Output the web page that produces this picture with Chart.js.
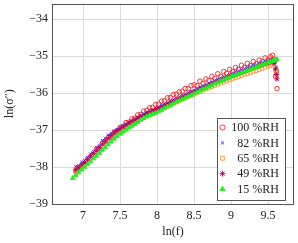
<!DOCTYPE html>
<html>
<head>
<meta charset="utf-8">
<script src="https://cdn.jsdelivr.net/npm/chart.js"></script>
<style>
  body { margin: 0; background: #fff; }
  #wrap { width: 298px; height: 243px; }
</style>
</head>
<body>
<div id="wrap"><canvas id="chart"></canvas></div>
<script>
// ln(f) sweep shared by all humidity levels
const lnF = [
  6.86, 6.90, 6.94, 6.98, 7.02, 7.06, 7.10, 7.14, 7.18, 7.22, 7.26, 7.30,
  7.34, 7.38, 7.42, 7.46, 7.50, 7.54, 7.58, 7.62, 7.66, 7.70, 7.74, 7.78,
  7.82, 7.86, 7.90, 7.94, 7.98, 8.02, 8.06, 8.10, 8.14, 8.18, 8.22, 8.26,
  8.30, 8.34, 8.38, 8.42, 8.46, 8.50, 8.54, 8.58, 8.62, 8.66, 8.70, 8.74,
  8.78, 8.82, 8.86, 8.90, 8.94, 8.98, 9.02, 9.06, 9.10, 9.14, 9.18, 9.22,
  9.26, 9.30, 9.34, 9.38, 9.42, 9.46, 9.50, 9.53, 9.56, 9.58, 9.60, 9.61, 9.62
];

// ln(sigma'') per humidity level
const rh100 = [
  null, -38.10, -38.02, -37.96, -37.93, -37.78, -37.74, -37.66, -37.52, -37.49, -37.36, -37.31,
  -37.20, -37.17, -37.06, -37.02, -36.93, -36.90, -36.80, -36.79, -36.70, -36.68, -36.59, -36.58,
  -36.49, -36.47, -36.40, -36.39, -36.31, -36.30, -36.22, -36.21, -36.13, -36.12, -36.04, -36.03,
  -35.97, -35.95, -35.88, -35.88, -35.80, -35.78, -35.80, -35.68, -35.74, -35.62, -35.66, -35.55,
  -35.60, -35.48, -35.55, -35.42, -35.47, -35.36, -35.42, -35.31, -35.36, -35.25, -35.31, -35.20,
  -35.26, -35.15, -35.21, -35.11, -35.15, -35.05, -35.10, -35.02, -34.98, -35.15, -35.55, -35.40, -35.88
];
const rh82 = [
  null, -37.98, -37.96, -37.86, -37.82, -37.74, -37.64, -37.58, -37.47, -37.42, -37.28, -37.22,
  -37.13, -37.09, -37.02, -36.98, -36.93, -36.88, -36.83, -36.79, -36.74, -36.69, -36.65, -36.61,
  -36.56, -36.52, -36.48, -36.45, -36.41, -36.38, -36.34, -36.30, -36.26, -36.22, -36.18, -36.14,
  -36.10, -36.06, -36.03, -35.99, -35.95, -35.92, -35.88, -35.84, -35.80, -35.77, -35.73, -35.70,
  -35.66, -35.63, -35.59, -35.56, -35.53, -35.50, -35.46, -35.43, -35.40, -35.37, -35.34, -35.31,
  -35.28, -35.25, -35.23, -35.20, -35.17, -35.14, -35.12, -35.10, -35.08, -35.07, -35.15, -35.30, -35.45
];
const rh65 = [
  null, -38.15, -38.08, -38.01, -37.95, -37.86, -37.78, -37.70, -37.62, -37.54, -37.46, -37.38,
  -37.30, -37.23, -37.16, -37.10, -37.04, -36.99, -36.94, -36.89, -36.84, -36.79, -36.75, -36.70,
  -36.66, -36.62, -36.58, -36.55, -36.51, -36.48, -36.44, -36.40, -36.36, -36.32, -36.28, -36.25,
  -36.21, -36.17, -36.14, -36.10, -36.07, -36.04, -36.00, -35.97, -35.93, -35.90, -35.87, -35.83,
  -35.80, -35.77, -35.74, -35.71, -35.68, -35.65, -35.62, -35.59, -35.56, -35.53, -35.50, -35.48,
  -35.45, -35.42, -35.40, -35.37, -35.34, -35.31, -35.28, -35.26, -35.22, -35.20, -35.30, -35.42, -35.50
];
const rh49 = [
  null, -38.08, -38.02, -37.94, -37.88, -37.80, -37.71, -37.63, -37.55, -37.47, -37.38, -37.30,
  -37.22, -37.15, -37.08, -37.02, -36.97, -36.92, -36.87, -36.82, -36.77, -36.73, -36.68, -36.64,
  -36.60, -36.56, -36.52, -36.49, -36.45, -36.42, -36.38, -36.34, -36.30, -36.26, -36.22, -36.19,
  -36.15, -36.11, -36.08, -36.04, -36.00, -35.97, -35.93, -35.90, -35.86, -35.83, -35.79, -35.76,
  -35.72, -35.69, -35.66, -35.62, -35.59, -35.56, -35.53, -35.50, -35.47, -35.44, -35.41, -35.38,
  -35.35, -35.32, -35.29, -35.27, -35.24, -35.21, -35.19, -35.16, -35.13, -35.20, -35.35, -35.50, -35.62
];
const rh15 = [
  -38.30, -38.22, -38.15, -38.07, -38.00, -37.93, -37.85, -37.77, -37.70, -37.62, -37.54, -37.47,
  -37.39, -37.31, -37.24, -37.17, -37.10, -37.05, -36.99, -36.94, -36.89, -36.84, -36.79, -36.73,
  -36.68, -36.64, -36.60, -36.57, -36.54, -36.50, -36.46, -36.41, -36.37, -36.33, -36.28, -36.24,
  -36.20, -36.17, -36.13, -36.09, -36.06, -36.02, -35.98, -35.94, -35.90, -35.87, -35.83, -35.79,
  -35.75, -35.72, -35.68, -35.65, -35.61, -35.58, -35.54, -35.51, -35.48, -35.45, -35.42, -35.39,
  -35.36, -35.33, -35.30, -35.27, -35.24, -35.21, -35.18, -35.16, -35.14, -35.12, -35.11, -35.10, -35.09
];

const seriesLabels = ["100 %RH", "82 %RH", "65 %RH", "49 %RH", "15 %RH"];
const xTicks = [7, 7.5, 8, 8.5, 9, 9.5];
const yTicks = [-39, -38, -37, -36, -35, -34];

const FONT = "'Liberation Serif', 'DejaVu Serif', serif";
const TXT = "#222";
const FRAME = "#555";

const toPoints = (ys) =>
  lnF.map((x, i) => ({ x: x, y: ys[i] })).filter((p) => p.y !== null);

const minus = (v) => (v < 0 ? "\u2212" + Math.abs(v) : String(v));

const makeSet = (label, ys, style, color, fill, radius, order) => ({
  label: label,
  data: toPoints(ys),
  pointStyle: style,
  borderColor: color,
  backgroundColor: fill,
  pointRadius: radius,
  pointBorderWidth: 0.9,
  pointHoverRadius: radius,
  showLine: false,
  order: order, // later humidity levels drawn on top
});

const datasets = [
  makeSet(seriesLabels[0], rh100, "circle", "#ff2020", "rgba(0,0,0,0)", 2.3, 5),
  makeSet(seriesLabels[1], rh82, "crossRot", "#2a2aff", "#2a2aff", 2, 4),
  makeSet(seriesLabels[2], rh65, "rect", "#ff9933", "rgba(0,0,0,0)", 2.4, 3),
  makeSet(seriesLabels[3], rh49, "star", "#b3005a", "#b3005a", 2.6, 2),
  makeSet(seriesLabels[4], rh15, "triangle", "#22ee22", "#22ee22", 2.6, 1),
];

// box round the plot area and the boxed legend at lower right
const framePlugin = {
  id: "frame",
  afterDraw: (chart) => {
    const { ctx, chartArea: a } = chart;
    ctx.save();
    ctx.strokeStyle = FRAME;
    ctx.lineWidth = 1;
    ctx.strokeRect(Math.round(a.left) + 0.5, Math.round(a.top) + 0.5,
      Math.round(a.right - a.left) - 1, Math.round(a.bottom - a.top) - 1);

    // legend
    const bx = 217, by = 118, bw = 68, bh = 82;
    ctx.fillStyle = "#fff";
    ctx.fillRect(bx, by, bw, bh);
    ctx.strokeStyle = FRAME;
    ctx.strokeRect(bx + 0.5, by + 0.5, bw, bh);
    ctx.font = "12px " + FONT;
    ctx.textBaseline = "middle";
    ctx.textAlign = "right";
    chart.data.datasets.forEach((ds, i) => {
      const y = 127.5 + i * 15.4;
      ctx.fillStyle = ds.backgroundColor;
      ctx.strokeStyle = ds.borderColor;
      ctx.lineWidth = ds.pointBorderWidth;
      Chart.helpers.drawPoint(ctx, {
        pointStyle: ds.pointStyle,
        radius: ds.pointRadius + 0.3,
        rotation: 0,
        borderWidth: ds.pointBorderWidth,
      }, 222.5, y);
      ctx.fillStyle = TXT;
      ctx.fillText(ds.label, 279, y + 0.5);
    });
    ctx.restore();
  },
};

new Chart(document.getElementById("chart"), {
  type: "scatter",
  data: { datasets: datasets },
  plugins: [framePlugin],
  options: {
    responsive: true,
    maintainAspectRatio: false,
    animation: false,
    events: [],
    layout: { padding: { top: 0, right: 4, left: 0, bottom: 0 } },
    plugins: { legend: { display: false }, tooltip: { enabled: false } },
    scales: {
      x: {
        type: "linear",
        min: 6.58,
        max: 9.85,
        afterBuildTicks: (s) => { s.ticks = xTicks.map((v) => ({ value: v })); },
        afterFit: (s) => { s.height = 39; s.paddingLeft = 0; s.paddingRight = 0; },
        grid: { color: "#dadada", drawTicks: false },
        border: { display: false },
        ticks: { padding: 5, color: TXT, font: { family: FONT, size: 12 }, callback: (v) => String(v) },
        title: { display: true, text: "ln(f)", color: TXT, font: { family: FONT, size: 12 }, padding: { top: 0, bottom: 4 } },
      },
      y: {
        type: "linear",
        min: -39,
        max: -33.58,
        afterBuildTicks: (s) => { s.ticks = yTicks.map((v) => ({ value: v })); },
        afterFit: (s) => { s.width = 52; s.paddingTop = 0; s.paddingBottom = 0; },
        grid: { color: "#dadada", drawTicks: false },
        border: { display: false },
        ticks: { padding: 4, color: TXT, font: { family: FONT, size: 12 }, callback: (v) => minus(v) },
        title: { display: true, text: "ln(σ″)", color: TXT, font: { family: FONT, size: 12 }, padding: { top: 3, bottom: 0 } },
      },
    },
  },
});
</script>
</body>
</html>
